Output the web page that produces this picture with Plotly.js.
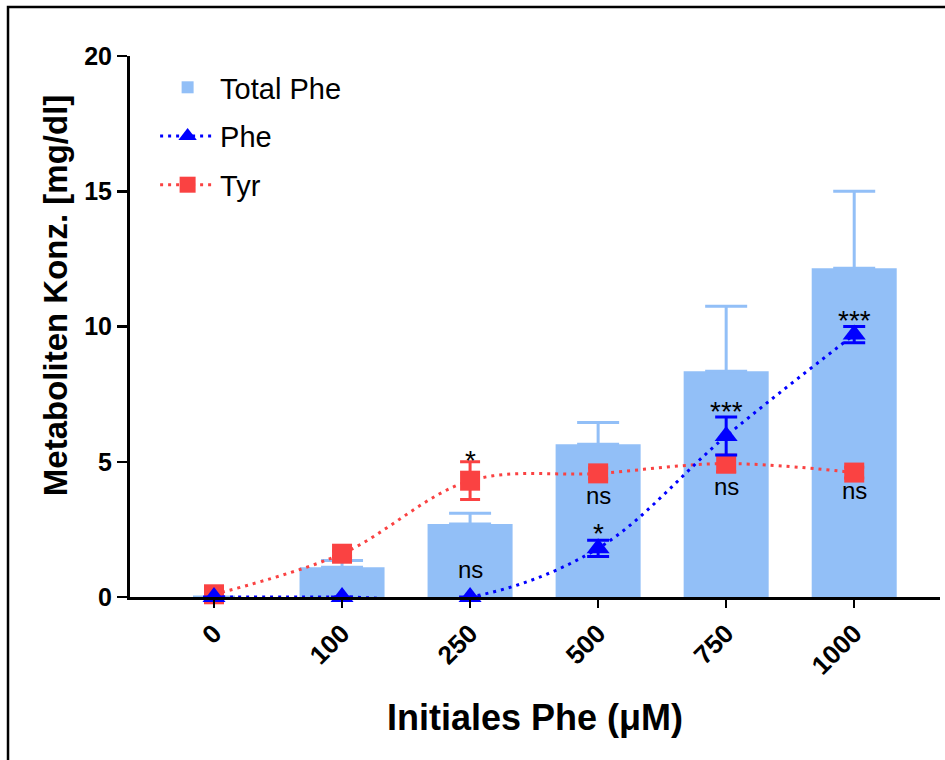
<!DOCTYPE html>
<html>
<head>
<meta charset="utf-8">
<script src="https://cdn.plot.ly/plotly-3.0.1.min.js"></script>
<style>html,body{margin:0;padding:0;background:#fff;}#chart{width:945px;height:760px;}</style>
</head>
<body>
<div id="chart"></div>
<script>
// ---- data ----
const categories = ["0", "100", "250", "500", "750", "1000"];
const totalPhe = [0, 1.1, 2.7, 5.65, 8.35, 12.15];
const totalPheErr = [null, 0.25, 0.4, 0.8, 2.4, 2.85];
const phe = [0, 0, 0, 1.8, 5.95, 9.7];
const pheErr = [0, 0, 0, 0.3, 0.7, 0.3];
const tyr = [0.1, 1.6, 4.3, 4.57, 4.93, 4.6];
const tyrErr = [0, 0.1, 0.7, 0.2, 0.3, 0.2];
const yTicks = [0, 5, 10, 15, 20];
// significance labels: [category, y, text]
const nsLabels = [["250", 1.0, "ns"], ["500", 3.77, "ns"], ["750", 4.1, "ns"], ["1000", 3.92, "ns"]];
const starLabels = [["250", 5.06, "*"], ["500", 2.33, "*"], ["750", 6.84, "***"], ["1000", 10.24, "***"]];

const FONT = "Liberation Sans, Arial, Helvetica, sans-serif";
const barColor = "rgb(146,191,247)";
const blue = "rgb(0,0,255)";
const red = "rgb(250,66,66)";

const traces = [
  {
    type: "bar", name: "Total Phe", x: categories, y: totalPhe,
    marker: {color: barColor},
    error_y: {type: "data", array: totalPheErr, arrayminus: totalPhe.map(() => 0), symmetric: false,
              color: barColor, thickness: 3, width: 21},
    legendrank: 1, legendgroup: "a", cliponaxis: false
  },
  {
    type: "scatter", mode: "lines+markers", name: "Tyr", x: categories, y: tyr,
    line: {color: red, width: 3, dash: "3px,5px", shape: "spline"},
    marker: {symbol: "square", size: 20, color: red},
    error_y: {type: "data", array: tyrErr, color: red, thickness: 3, width: 10},
    legendrank: 3, legendgroup: "c", cliponaxis: false
  },
  {
    type: "scatter", mode: "lines+markers", name: "Phe", x: categories, y: phe,
    line: {color: blue, width: 3, dash: "3px,5px", shape: "spline"},
    marker: {symbol: "triangle-up", size: 20, color: blue},
    error_y: {type: "data", array: pheErr, color: blue, thickness: 3, width: 11},
    legendrank: 2, legendgroup: "b", cliponaxis: false
  }
];

const annotations = [];
nsLabels.forEach(([c, y, t]) => annotations.push({
  x: categories.indexOf(c), y: y, xref: "x", yref: "y", text: t, showarrow: false,
  font: {family: FONT, size: 24, color: "#000"}, xanchor: "center", yanchor: "middle"
}));
starLabels.forEach(([c, y, t]) => annotations.push({
  x: categories.indexOf(c), y: y, xref: "x", yref: "y", text: t, showarrow: false,
  font: {family: FONT, size: 28, color: "#000"}, xanchor: "center", yanchor: "middle"
}));
annotations.push({
  xref: "paper", yref: "paper", x: -0.092, y: 0.557, text: "Metaboliten Konz. [mg/dl]",
  textangle: -90, showarrow: false, xanchor: "center", yanchor: "middle",
  font: {family: FONT, size: 33, color: "#000", weight: "bold"}
});

const layout = {
  width: 945, height: 760,
  margin: {l: 130, r: 5, t: 56, b: 163, pad: 0},
  paper_bgcolor: "#fff", plot_bgcolor: "#fff",
  font: {family: FONT, color: "#000"},
  showlegend: true,
  bargap: 0.336,
  legend: {x: 0.031, y: 0.989, xanchor: "left", yanchor: "top", bgcolor: "rgba(0,0,0,0)",
           font: {family: FONT, size: 29, color: "#000"}, traceorder: "grouped", tracegroupgap: 8,
           itemwidth: 55},
  xaxis: {
    type: "category", categoryorder: "array", categoryarray: categories,
    range: [-0.656, 5.67], showline: true, linewidth: 3, linecolor: "#000",
    ticks: "outside", ticklen: 8, tickwidth: 2.5, tickcolor: "#000",
    tickangle: -45, ticklabelstandoff: 0,
    tickfont: {family: FONT, size: 26, color: "#000", weight: "bold"},
    showgrid: false, zeroline: false,
    title: {text: "Initiales Phe (μM)", font: {family: FONT, size: 36, color: "#000", weight: "bold"}, standoff: 26}
  },
  yaxis: {
    range: [0, 20], tickvals: yTicks, ticktext: yTicks.map(String),
    showline: true, linewidth: 3, linecolor: "#000",
    ticks: "outside", ticklen: 10, tickwidth: 2.5, tickcolor: "#000",
    tickfont: {family: FONT, size: 25, color: "#000", weight: "bold"},
    showgrid: false, zeroline: false
  },
  annotations: annotations,
  shapes: [{
    type: "rect", xref: "paper", yref: "paper",
    x0: -0.1506, x1: 1.5, y0: -1, y1: 1.0906,
    line: {color: "#000", width: 2.5}, fillcolor: "rgba(0,0,0,0)", layer: "above"
  }]
};

Plotly.newPlot("chart", traces, layout, {displayModeBar: false, staticPlot: true});
</script>
</body>
</html>
